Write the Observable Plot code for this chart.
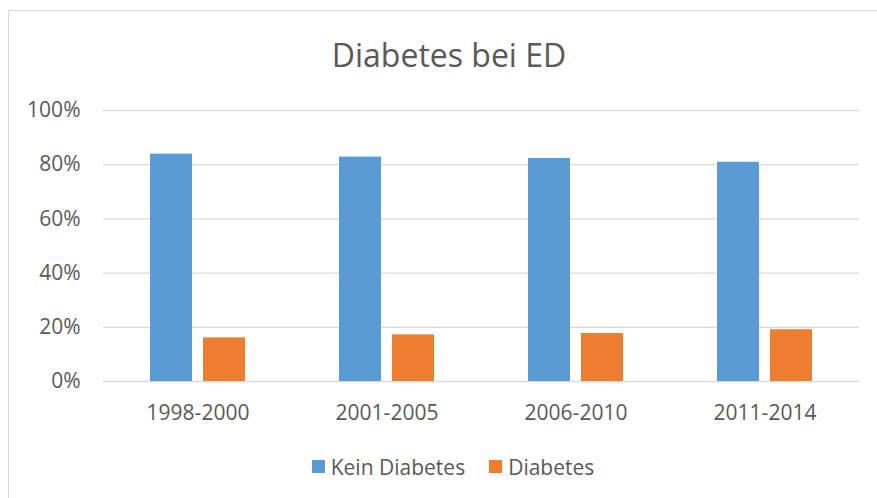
<!DOCTYPE html>
<html>
<head>
<meta charset="utf-8">
<script src="https://cdn.jsdelivr.net/npm/d3@7"></script>
<script src="https://cdn.jsdelivr.net/npm/@observablehq/plot@0.6"></script>
<style>
  body { margin: 0; background: #fff; }
  #page { position: relative; width: 877px; height: 498px; overflow: hidden; font-family: "Open Sans", sans-serif; color: #595959; }
  #frame { position: absolute; left: 8px; top: 10px; width: 900px; height: 520px; border: 1.3px solid #d9d9d9; box-sizing: border-box; }
  #title { position: absolute; left: 0; top: 39px; width: 898px; text-align: center; font-size: 32px; line-height: 32px; color: #595959; }
  #chart { position: absolute; left: 0; top: 90px; }
  #legend { position: absolute; left: 0; top: 450px; width: 906px; }
  #legend span { margin-right: 24px !important; }
  #legend span:last-of-type { margin-right: 0 !important; }
  #legend span svg { margin-right: 6px !important; }
</style>
</head>
<body>
<div id="page">
  <div id="frame"></div>
  <div id="title">Diabetes bei ED</div>
  <div id="chart"></div>
  <div id="legend"></div>
</div>
<script>
const periods = ["1998-2000", "2001-2005", "2006-2010", "2011-2014"];
const seriesNames = ["Kein Diabetes", "Diabetes"];
const keinDiabetes = [0.839, 0.828, 0.823, 0.809];
const diabetes = [0.161, 0.172, 0.177, 0.191];
const yTicks = [0, 0.2, 0.4, 0.6, 0.8, 1.0];
const colors = ["#5B9BD5", "#ED7D31"];

const rows = periods.flatMap((p, i) => [
  {period: p, series: seriesNames[0], value: keinDiabetes[i]},
  {period: p, series: seriesNames[1], value: diabetes[i]}
]);

const chart = Plot.plot({
  width: 877,
  height: 340,
  marginLeft: 102,
  marginRight: 17,
  marginTop: 20,
  marginBottom: 49,
  style: {fontFamily: "'Open Sans', sans-serif", fontSize: "21px", color: "#595959", background: "transparent", overflow: "visible"},
  fx: {domain: periods, paddingInner: 0, paddingOuter: 0, label: null, tickSize: 0, tickPadding: 24, axis: "bottom"},
  x: {domain: seriesNames, paddingInner: 0.204, paddingOuter: 0.857, axis: null},
  y: {domain: [0, 1], ticks: yTicks, tickFormat: d3.format(".0%"), label: null, tickSize: 0, tickPadding: 23},
  color: {domain: seriesNames, range: colors},
  marks: [
    Plot.ruleY(yTicks, {stroke: "#d9d9d9", strokeWidth: 1.3}),
    Plot.barY(rows, {fx: "period", x: "series", y: "value", fill: "series"})
  ]
});
document.getElementById("chart").appendChild(chart);

const legend = Plot.legend({
  color: {domain: seriesNames, range: colors},
  legend: "swatches",
  swatchSize: 13,
  style: {fontFamily: "'Open Sans', sans-serif", fontSize: "21px", color: "#595959", justifyContent: "center"}
});
document.getElementById("legend").appendChild(legend);
</script>
</body>
</html>
